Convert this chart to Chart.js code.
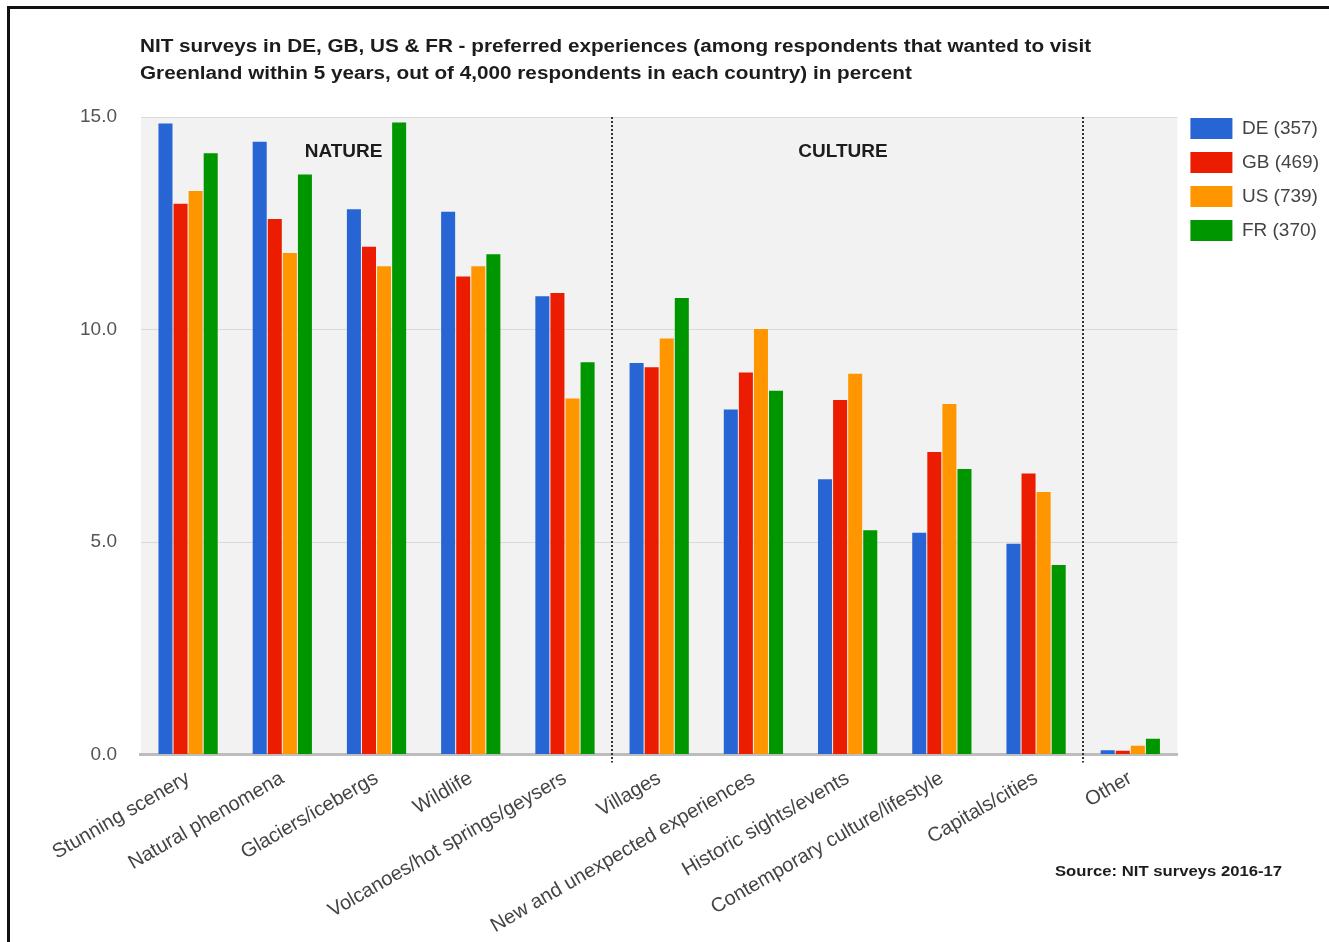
<!DOCTYPE html>
<html>
<head>
<meta charset="utf-8">
<title>Greenland experiences</title>
<script src="https://cdn.jsdelivr.net/npm/chart.js@4.4.1/dist/chart.umd.min.js"></script>
<style>
  html, body { margin: 0; padding: 0; background: #fff; }
  #wrap { position: relative; width: 1329px; height: 942px; overflow: hidden; font-family: "Liberation Sans", Arial, sans-serif; }
  #frame { position: absolute; left: 7px; top: 6px; right: -10px; bottom: -10px; border-left: 3px solid #111; border-top: 3px solid #111; }
  #title { position: absolute; left: 140px; top: 33px; font-weight: bold; font-size: 18px; line-height: 27px; color: #1c1c1c; white-space: nowrap; transform: scaleX(1.15); transform-origin: left top; }
  #source { position: absolute; left: 1055px; top: 863px; font-weight: bold; font-size: 14.5px; color: #1c1c1c; white-space: nowrap; transform: scaleX(1.15); transform-origin: left top; }
  #chart { position: absolute; left: 0; top: 0; }
</style>
</head>
<body>
<div id="wrap">
  <canvas id="chart" width="1329" height="942"></canvas>
  <div id="frame"></div>
  <div id="title">NIT surveys in DE, GB, US &amp; FR - preferred experiences (among respondents that wanted to visit<br>Greenland within 5 years, out of 4,000 respondents in each country) in percent</div>
  <div id="source">Source: NIT surveys 2016-17</div>
</div>
<script>
const categories = [
  "Stunning scenery", "Natural phenomena", "Glaciers/icebergs", "Wildlife",
  "Volcanoes/hot springs/geysers", "Villages", "New and unexpected experiences",
  "Historic sights/events", "Contemporary culture/lifestyle", "Capitals/cities", "Other"
];
const seriesNames = ["DE (357)", "GB (469)", "US (739)", "FR (370)"];
const deValues = [14.85, 14.42, 12.83, 12.77, 10.78, 9.21, 8.12, 6.48, 5.22, 4.96, 0.10];
const gbValues = [12.96, 12.60, 11.95, 11.25, 10.86, 9.11, 8.99, 8.34, 7.12, 6.61, 0.09];
const usValues = [13.26, 11.80, 11.49, 11.49, 8.38, 9.79, 10.01, 8.96, 8.25, 6.18, 0.21];
const frValues = [14.15, 13.65, 14.87, 11.77, 9.23, 10.74, 8.56, 5.28, 6.72, 4.46, 0.37];
const yTicks = [0, 5, 10, 15];

// section headings and the category index they sit over
const sectionNames = ["NATURE", "CULTURE"];
const sectionCenters = [1.65, 6.95];
// dividers fall between these category pairs
const dividerAfter = [4, 9];

const colors = ["#2764d4", "#ec1c00", "#ff9600", "#009600"];
const allValues = [deValues, gbValues, usValues, frValues];

const sectionsPlugin = {
  id: "sections",
  afterLayout(chart) {
    // keep the legend level with the top of the plot
    chart.legend.top -= 12;
    chart.legend.bottom -= 12;
  },
  beforeDraw(chart) {
    const { ctx, chartArea: a } = chart;
    ctx.save();
    ctx.fillStyle = "#f2f2f2";
    ctx.fillRect(a.left, a.top, a.right - a.left, a.bottom - a.top);
    ctx.restore();
  },
  afterDatasetsDraw(chart) {
    const { ctx, chartArea: a } = chart;
    const x = chart.scales.x;
    ctx.save();
    ctx.strokeStyle = "#333";
    ctx.lineWidth = 2;
    ctx.setLineDash([2, 2]);
    dividerAfter.forEach(i => {
      const px = Math.round((x.getPixelForTick(i) + x.getPixelForTick(i + 1)) / 2);
      ctx.beginPath();
      ctx.moveTo(px, a.top);
      ctx.lineTo(px, a.bottom + 8);
      ctx.stroke();
    });
    ctx.setLineDash([]);
    ctx.fillStyle = "#1c1c1c";
    ctx.font = "bold 19px 'Liberation Sans', Arial, sans-serif";
    ctx.textAlign = "center";
    ctx.textBaseline = "middle";
    sectionNames.forEach((name, k) => {
      const c = sectionCenters[k];
      const i = Math.floor(c);
      const px = x.getPixelForTick(i) + (c - i) * (x.getPixelForTick(i + 1) - x.getPixelForTick(i));
      ctx.fillText(name, px, a.top + 35);
    });
    ctx.restore();
  }
};

new Chart(document.getElementById("chart"), {
  type: "bar",
  data: {
    labels: categories,
    datasets: seriesNames.map((name, i) => ({
      label: name,
      data: allValues[i],
      backgroundColor: colors[i],
      borderWidth: 0,
      categoryPercentage: 0.64,
      barPercentage: 0.93
    }))
  },
  options: {
    responsive: false,
    animation: false,
    layout: { padding: { top: 117, left: 56, right: 0, bottom: 0 } },
    plugins: {
      title: { display: false },
      tooltip: { enabled: false },
      legend: {
        position: "right",
        align: "start",
        labels: {
          boxWidth: 42,
          boxHeight: 21,
          padding: 13,
          color: "#444",
          font: { size: 19, family: "'Liberation Sans', Arial, sans-serif" }
        }
      }
    },
    scales: {
      x: {
        grid: { display: false },
        border: { display: true, color: "#bdbdbd", width: 3 },
        ticks: {
          autoSkip: false,
          maxRotation: 30,
          minRotation: 30,
          padding: 4,
          color: "#444",
          font: { size: 20, family: "'Liberation Sans', Arial, sans-serif" }
        }
      },
      y: {
        min: 0,
        max: 15,
        afterBuildTicks(scale) { scale.ticks = yTicks.map(v => ({ value: v })); },
        grid: { color: "#dadada", lineWidth: 1, drawTicks: false },
        border: { display: false },
        ticks: {
          padding: 24,
          color: "#555",
          font: { size: 19, family: "'Liberation Sans', Arial, sans-serif" },
          callback: v => v.toFixed(1)
        }
      }
    }
  },
  plugins: [sectionsPlugin]
});
</script>
</body>
</html>
